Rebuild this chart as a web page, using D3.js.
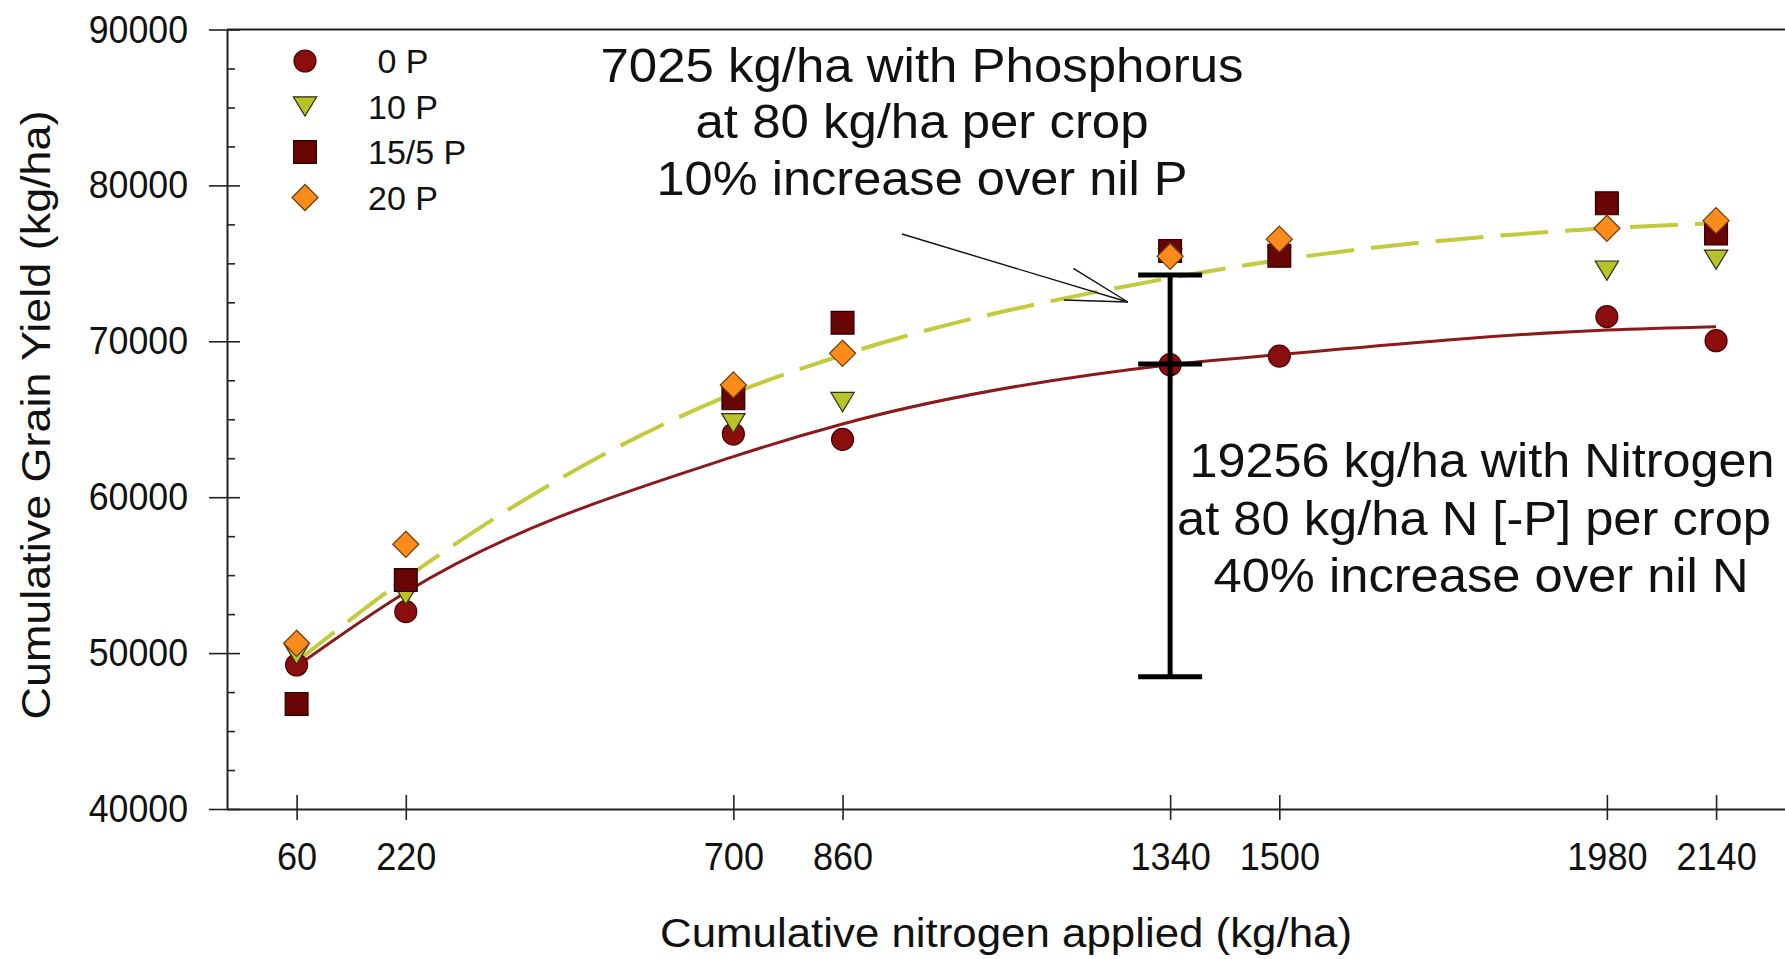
<!DOCTYPE html>
<html>
<head>
<meta charset="utf-8">
<script src="https://cdn.jsdelivr.net/npm/d3@7"></script>
<style>
  body { margin: 0; background: #fff; }
  text { font-family: "Liberation Sans", Arial, sans-serif; fill: #111; }
</style>
</head>
<body>
<div id="chart"></div>
<script>
// cumulative N applied at each harvest (kg/ha)
const nApplied = [60, 220, 700, 860, 1340, 1500, 1980, 2140];
const yTickValues = [40000, 50000, 60000, 70000, 80000, 90000];
const seriesNames = [" 0 P", "10 P", "15/5 P", "20 P"];

// cumulative grain yield per P rate (kg/ha)
const yield0P = [49240, 52660, 64050, 63710, 68500, 69050, 71580, 70040];
const yield10P = [49900, 53730, 64740, 66100, 75300, 75400, 74530, 75230];
const yield155P = [46740, 54690, 66340, 71190, 75790, 75480, 78850, 76910];
const yield20P = [50630, 56980, 67200, 69230, 75450, 76550, 77250, 77740];

// fitted response curves, read at each N level
const fitNilP = [49150, 53900, 62600, 64700, 68500, 69150, 70725, 70940];
const fitWithP = [49450, 54800, 66650, 69120, 74060, 75215, 77250, 77570];

// bar at 1340 kg/ha N: P gain above, N gain below
const barN = 1340;
const barTop = 74250, barMid = 68550, barBottom = 48480;

// arrow from the phosphorus note to the P curve (N, yield)
const arrowFrom = [947, 76880];
const arrowTo = [1278, 72520];

const noteP = ["7025 kg/ha with Phosphorus", "at 80 kg/ha per crop", "10% increase over nil P"];
const noteN = ["19256 kg/ha with Nitrogen", "at 80 kg/ha N [-P] per crop", "40% increase over nil N"];

const W = 1785, H = 959;

const svg = d3.select("#chart").append("svg")
    .attr("width", W)
    .attr("height", H)
    .style("display", "block");

const x = d3.scaleLinear().domain([-42, 2241]).range([227, 1785]);
const y = d3.scaleLinear().domain([40000, 90000]).range([809, 29.5]);

// custom symbols so the marker box is centred on the value
const triangleDown = {
    draw(ctx, size) {
        const w = Math.sqrt(2 * size / 0.83), h = 0.83 * w;
        ctx.moveTo(-w / 2, -h / 2);
        ctx.lineTo(w / 2, -h / 2);
        ctx.lineTo(0, h / 2);
        ctx.closePath();
    }
};
const diamond = {
    draw(ctx, size) {
        const r = Math.sqrt(size / 2);
        ctx.moveTo(0, -r);
        ctx.lineTo(r, 0);
        ctx.lineTo(0, r);
        ctx.lineTo(-r, 0);
        ctx.closePath();
    }
};

const seriesStyles = [
    {values: yield0P, type: d3.symbolCircle, size: 380, fill: "#8c0d0d", stroke: "#4a0000"},
    {values: yield10P, type: triangleDown, size: 225, fill: "#b8c229", stroke: "#2d2d10"},
    {values: yield155P, type: d3.symbolSquare, size: 520, fill: "#680505", stroke: "#2a0000"},
    {values: yield20P, type: diamond, size: 340, fill: "#fb8c1c", stroke: "#6a3a08"}
];

// axes
const axisColor = "#222";

const xAxis = svg.append("g")
    .attr("transform", `translate(0,${y(40000)})`)
    .call(d3.axisBottom(x).tickValues(nApplied).tickSize(0).tickSizeOuter(0).tickFormat(d3.format("d")));
xAxis.select(".domain").attr("stroke", axisColor).attr("stroke-width", 2);
xAxis.selectAll(".tick line").attr("y1", -14).attr("y2", 11).attr("stroke", axisColor).attr("stroke-width", 1.6);
xAxis.selectAll(".tick text")
    .attr("y", 0).attr("dy", 0)
    .attr("transform", "translate(0,61) scale(0.95,1)")
    .attr("font-size", 38)
    .attr("fill", "#111");

const yAxis = svg.append("g")
    .attr("transform", `translate(${x(-42)},0)`)
    .call(d3.axisLeft(y).tickValues(yTickValues).tickSize(0).tickSizeOuter(0).tickFormat(d3.format("d")));
yAxis.select(".domain").attr("stroke", axisColor).attr("stroke-width", 2);
yAxis.selectAll(".tick line").attr("x1", -18).attr("x2", 13).attr("stroke", axisColor).attr("stroke-width", 1.6);
yAxis.selectAll(".tick text")
    .attr("x", 0).attr("dy", "0.33em")
    .attr("transform", "translate(-39,0) scale(0.94,1)")
    .attr("font-size", 38)
    .attr("fill", "#111");

const minorTicks = d3.range(40000, 90000, 2500).filter(v => v % 10000 !== 0);
const yMinor = svg.append("g")
    .attr("transform", `translate(${x(-42)},0)`)
    .call(d3.axisLeft(y).tickValues(minorTicks).tickSize(-8).tickFormat(""));
yMinor.select(".domain").remove();
yMinor.selectAll(".tick line").attr("stroke", axisColor).attr("stroke-width", 1.6);

// top frame line
svg.append("line")
    .attr("x1", x.range()[0]).attr("x2", x.range()[1])
    .attr("y1", y(90000)).attr("y2", y(90000))
    .attr("stroke", axisColor).attr("stroke-width", 2);

// axis titles
svg.append("text")
    .attr("x", (x.range()[0] + x.range()[1]) / 2)
    .attr("y", 947)
    .attr("text-anchor", "middle")
    .attr("font-size", 40)
    .attr("textLength", 692)
    .attr("lengthAdjust", "spacingAndGlyphs")
    .text("Cumulative nitrogen applied (kg/ha)");

svg.append("text")
    .attr("transform", "translate(50,415) rotate(-90)")
    .attr("text-anchor", "middle")
    .attr("font-size", 41)
    .attr("textLength", 609)
    .attr("lengthAdjust", "spacingAndGlyphs")
    .text("Cumulative Grain Yield (kg/ha)");

// fitted curves
const line = d3.line()
    .x((d, i) => x(nApplied[i]))
    .y(d => y(d))
    .curve(d3.curveMonotoneX);

svg.append("path")
    .datum(fitNilP)
    .attr("d", line)
    .attr("fill", "none")
    .attr("stroke", "#8b1a1a")
    .attr("stroke-width", 3);

svg.append("path")
    .datum(fitWithP)
    .attr("d", line)
    .attr("fill", "none")
    .attr("stroke", "#c3cb3c")
    .attr("stroke-width", 4)
    .attr("stroke-dasharray", "48,17");

// data points
seriesStyles.forEach(s => {
    const sym = d3.symbol(s.type, s.size);
    svg.append("g")
        .selectAll("path")
        .data(s.values)
        .enter().append("path")
        .attr("d", sym)
        .attr("transform", (d, i) => `translate(${x(nApplied[i])},${y(d)})`)
        .attr("fill", s.fill)
        .attr("stroke", s.stroke)
        .attr("stroke-width", 1.2);
});

// bar at 1340 kg/ha N
const bx = x(barN);
const bar = svg.append("g").attr("stroke", "#000").attr("stroke-width", 5);
bar.append("line")
    .attr("x1", bx).attr("x2", bx)
    .attr("y1", y(barTop)).attr("y2", y(barBottom));
[barTop, barMid, barBottom].forEach(v => {
    bar.append("line")
        .attr("x1", bx - 32).attr("x2", bx + 32)
        .attr("y1", y(v)).attr("y2", y(v));
});

// arrow with an open head
const ax0 = x(arrowFrom[0]), ay0 = y(arrowFrom[1]);
const ax1 = x(arrowTo[0]), ay1 = y(arrowTo[1]);
const back = Math.atan2(ay0 - ay1, ax0 - ax1);
const headLen = 64, headSpread = 15 * Math.PI / 180;
const arrow = svg.append("g").attr("stroke", "#111").attr("stroke-width", 1.4).attr("fill", "none");
arrow.append("line").attr("x1", ax0).attr("y1", ay0).attr("x2", ax1).attr("y2", ay1);
[-headSpread, headSpread].forEach(a => {
    arrow.append("line")
        .attr("x1", ax1).attr("y1", ay1)
        .attr("x2", ax1 + headLen * Math.cos(back + a))
        .attr("y2", ay1 + headLen * Math.sin(back + a));
});

// notes
const notePLayout = [{y: 82, w: 643}, {y: 138, w: 453}, {y: 195, w: 531}];
noteP.forEach((t, i) => {
    svg.append("text")
        .attr("x", 922).attr("y", notePLayout[i].y)
        .attr("text-anchor", "middle")
        .attr("font-size", 48)
        .attr("textLength", notePLayout[i].w)
        .attr("lengthAdjust", "spacingAndGlyphs")
        .text(t);
});

const noteNLayout = [{x: 1482, y: 477, w: 585}, {x: 1474, y: 535, w: 594}, {x: 1481, y: 592, w: 535}];
noteN.forEach((t, i) => {
    svg.append("text")
        .attr("x", noteNLayout[i].x).attr("y", noteNLayout[i].y)
        .attr("text-anchor", "middle")
        .attr("font-size", 48)
        .attr("textLength", noteNLayout[i].w)
        .attr("lengthAdjust", "spacingAndGlyphs")
        .text(t);
});

// legend
const legend = svg.append("g").attr("transform", "translate(305,61)");
seriesStyles.forEach((s, i) => {
    const row = legend.append("g").attr("transform", `translate(0,${i * 45.5})`);
    row.append("path")
        .attr("d", d3.symbol(s.type, s.size)())
        .attr("fill", s.fill)
        .attr("stroke", s.stroke)
        .attr("stroke-width", 1.2);
    row.append("text")
        .attr("x", 63)
        .attr("dy", "0.36em")
        .attr("font-size", 34)
        .style("white-space", "pre")
        .text(seriesNames[i]);
});
</script>
</body>
</html>
